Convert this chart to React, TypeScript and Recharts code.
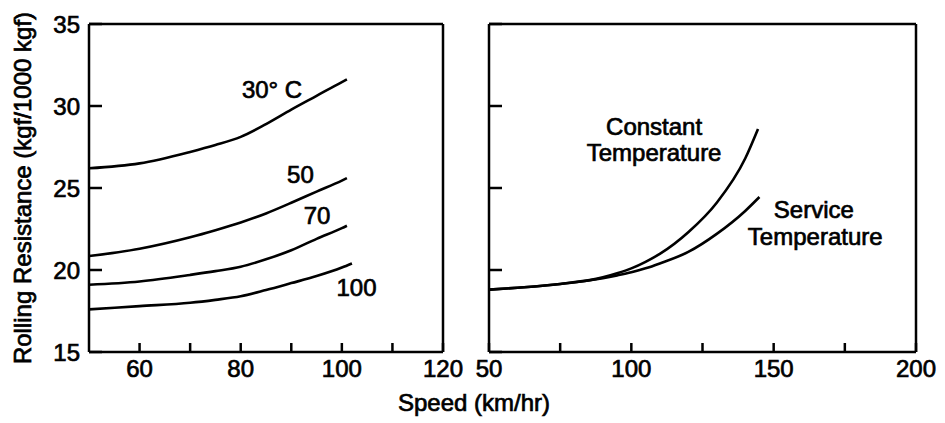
import { LineChart, Line, XAxis, YAxis, ReferenceDot } from 'recharts';

// tick positions
const leftSpeedTicks = [60, 70, 80, 90, 100, 110, 120];
const leftSpeedLabels = [60, 80, 100, 120];
const rightSpeedTicks = [50, 75, 100, 125, 150, 175, 200];
const rightSpeedLabels = [50, 100, 150, 200];
const resistanceTicks = [15, 20, 25, 30, 35];

// left panel: rolling resistance at fixed temperatures
const speeds = [50, 60, 70, 75, 80, 85, 90, 95, 100, 101];
const temp30 = [26.2, 26.5, 27.2, 27.62, 28.12, 28.9, 29.78, 30.62, 31.46, 31.62];
const temp50 = [20.85, 21.3, 22.0, 22.43, 22.9, 23.45, 24.1, 24.78, 25.45, 25.6];
const temp70 = [19.1, 19.3, 19.7, 19.93, 20.2, 20.65, 21.2, 21.9, 22.55, 22.7];
const speeds100 = [50, 60, 70, 75, 80, 85, 90, 95, 100, 102];
const temp100 = [17.6, 17.8, 18.0, 18.18, 18.4, 18.78, 19.2, 19.63, 20.15, 20.4];

// right panel: constant vs service temperature
const speedsConst = [50, 60, 75, 90, 95, 100, 105, 110, 120, 130, 140, 144.5];
const constTemp = [18.8, 18.92, 19.15, 19.55, 19.8, 20.1, 20.5, 20.98, 22.3, 24.1, 26.8, 28.6];
const speedsService = [50, 60, 75, 90, 95, 100, 105, 110, 120, 130, 140, 145];
const serviceTemp = [18.8, 18.92, 19.15, 19.5, 19.67, 19.86, 20.1, 20.4, 21.1, 22.2, 23.6, 24.45];

// curve annotations (data units)
const leftNotes = [
  { text: '30° C', speed: 86.2, value: 31.0 },
  { text: '50', speed: 91.8, value: 25.8 },
  { text: '70', speed: 95.1, value: 23.35 },
  { text: '100', speed: 102.9, value: 18.96 },
];
const rightNotes = [
  { text: 'Constant', speed: 108, value: 28.75 },
  { text: 'Temperature', speed: 108, value: 27.16 },
  { text: 'Service', speed: 164.1, value: 23.7 },
  { text: 'Temperature', speed: 164.6, value: 22.04 },
];

const zip = (xs: number[], ys: number[]) => xs.map((x, i) => ({ x, y: ys[i] }));

const FONT = '"Liberation Sans", Arial, sans-serif';
const ink = { stroke: '#000', strokeWidth: 0.7 };
const axisLine = { stroke: '#000', strokeWidth: 2.5 };
const tickLine = { stroke: '#000', strokeWidth: 2.5 };
const tickText = { fill: '#000', fontSize: 24, fontFamily: FONT, ...ink };
const blank = () => '';

function Curve({ data }: { data: { x: number; y: number }[] }) {
  return (
    <Line
      data={data}
      dataKey="y"
      type="monotone"
      stroke="#000"
      strokeWidth={2.6}
      dot={false}
      isAnimationActive={false}
    />
  );
}

function Note({ text, speed, value }: { text: string; speed: number; value: number }) {
  return (
    <ReferenceDot
      x={speed}
      y={value}
      r={1}
      fill="none"
      stroke="none"
      label={{ value: text, position: 'center', fill: '#000', fontSize: 24, fontFamily: FONT, ...ink }}
    />
  );
}

export default function App() {
  return (
    <div style={{ position: 'absolute', left: 0, top: 0, width: 945, height: 423, background: '#fff' }}>
      <div style={{ position: 'absolute', left: 0, top: 0 }}>
        <LineChart width={470} height={423} margin={{ top: 23, right: 26, bottom: 0, left: 0 }}>
          <XAxis
            dataKey="x"
            type="number"
            domain={[50, 120]}
            ticks={leftSpeedTicks}
            tickFormatter={(v: number) => (leftSpeedLabels.includes(v) ? String(v) : '')}
            allowDataOverflow
            height={71}
            tickSize={-9}
            tickMargin={17}
            axisLine={axisLine}
            tickLine={tickLine}
            tick={tickText}
          />
          <XAxis
            xAxisId="top"
            orientation="top"
            type="number"
            domain={[50, 120]}
            ticks={leftSpeedTicks}
            tickFormatter={blank}
            height={1}
            tickSize={-9}
            axisLine={axisLine}
            tickLine={tickLine}
          />
          <YAxis
            type="number"
            domain={[15, 35]}
            ticks={resistanceTicks}
            allowDataOverflow
            width={89}
            tickSize={-13}
            tickMargin={22}
            axisLine={axisLine}
            tickLine={tickLine}
            tick={tickText}
            label={{
              value: 'Rolling Resistance (kgf/1000 kgf)',
              angle: -90,
              position: 'insideLeft',
              offset: 22,
              fill: '#000',
              fontSize: 24,
              fontFamily: FONT,
              ...ink,
              style: { textAnchor: 'middle' },
            }}
          />
          <YAxis
            yAxisId="right"
            orientation="right"
            type="number"
            domain={[15, 35]}
            ticks={resistanceTicks}
            tickFormatter={blank}
            width={1}
            tickSize={-13}
            axisLine={axisLine}
            tickLine={tickLine}
          />
          {Curve({ data: zip(speeds, temp30) })}
          {Curve({ data: zip(speeds, temp50) })}
          {Curve({ data: zip(speeds, temp70) })}
          {Curve({ data: zip(speeds100, temp100) })}
          {leftNotes.map((n, i) => (
            <Note key={i} {...n} />
          ))}
        </LineChart>
      </div>
      <div style={{ position: 'absolute', left: 460, top: 0 }}>
        <LineChart width={485} height={423} margin={{ top: 23, right: 28, bottom: 0, left: 28 }}>
          <XAxis
            dataKey="x"
            type="number"
            domain={[50, 200]}
            ticks={rightSpeedTicks}
            tickFormatter={(v: number) => (rightSpeedLabels.includes(v) ? String(v) : '')}
            allowDataOverflow
            height={71}
            tickSize={-9}
            tickMargin={17}
            axisLine={axisLine}
            tickLine={tickLine}
            tick={tickText}
          />
          <XAxis
            xAxisId="top"
            orientation="top"
            type="number"
            domain={[50, 200]}
            ticks={rightSpeedTicks}
            tickFormatter={blank}
            height={1}
            tickSize={-9}
            axisLine={axisLine}
            tickLine={tickLine}
          />
          <YAxis
            type="number"
            domain={[15, 35]}
            ticks={resistanceTicks}
            tickFormatter={blank}
            allowDataOverflow
            width={1}
            tickSize={-13}
            axisLine={axisLine}
            tickLine={tickLine}
          />
          <YAxis
            yAxisId="right"
            orientation="right"
            type="number"
            domain={[15, 35]}
            ticks={resistanceTicks}
            tickFormatter={blank}
            width={1}
            tickSize={-13}
            axisLine={axisLine}
            tickLine={tickLine}
          />
          {Curve({ data: zip(speedsConst, constTemp) })}
          {Curve({ data: zip(speedsService, serviceTemp) })}
          {rightNotes.map((n, i) => (
            <Note key={i} {...n} />
          ))}
        </LineChart>
      </div>
      <div
        style={{
          position: 'absolute',
          left: 0,
          top: 391,
          width: 948,
          textAlign: 'center',
          fontFamily: FONT,
          fontSize: 24,
          lineHeight: '24px',
          color: '#000',
          WebkitTextStroke: '0.7px #000',
        }}
      >
        Speed (km/hr)
      </div>
    </div>
  );
}
